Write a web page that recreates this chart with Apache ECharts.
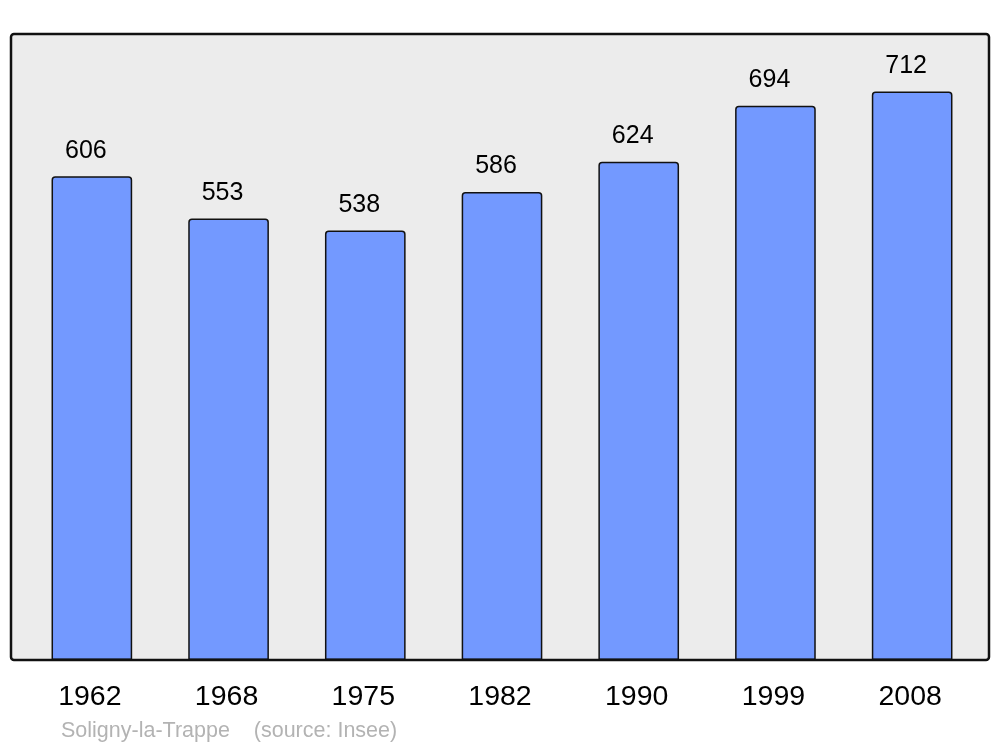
<!DOCTYPE html>
<html>
<head>
<meta charset="utf-8">
<script src="https://cdn.jsdelivr.net/npm/echarts@6/dist/echarts.min.js"></script>
<style>html,body{margin:0;padding:0;background:#fff;}#c{width:1000px;height:747px;}</style>
</head>
<body>
<div id="c"></div>
<script>
const years = ['1962','1968','1975','1982','1990','1999','2008'];
const population = [606, 553, 538, 586, 624, 694, 712];
const sourceText = 'Soligny-la-Trappe    (source: Insee)';

const chart = echarts.init(document.getElementById('c'), null, {renderer: 'canvas'});
chart.setOption({
  animation: false,
  backgroundColor: '#ffffff',
  grid: {left: 23.5, right: 19.5, top: 34, bottom: 87},
  xAxis: {
    type: 'category',
    data: years,
    axisLine: {show: false},
    axisTick: {show: false},
    axisLabel: {fontSize: 28.5, color: '#000', margin: 23, padding: [0, 4, 0, 0],
                fontFamily: 'Liberation Sans, Arial, sans-serif'}
  },
  yAxis: {type: 'value', min: 0, max: 784, show: false, splitLine: {show: false}},
  graphic: [
    {type: 'rect', z: -10, shape: {x: 11, y: 34, width: 978, height: 626, r: 3},
     style: {fill: '#ececec', stroke: 'none'}},
    {type: 'rect', z: 100, shape: {x: 11, y: 34, width: 978, height: 626, r: 3},
     style: {fill: 'none', stroke: '#111', lineWidth: 2.5}},
    {type: 'text', left: 61, top: 720,
     style: {text: sourceText, fill: '#b3b3b3', fontSize: 21.5, fontFamily: 'Liberation Sans, Arial, sans-serif'}}
  ],
  series: [{
    type: 'bar',
    data: population,
    barCategoryGap: '41%',
    itemStyle: {color: '#7399ff', borderColor: '#111', borderWidth: 1.5, borderRadius: [3,3,0,0]},
    label: {show: true, position: 'top', distance: 13, offset: [-6, 0], fontSize: 25, color: '#000',
            fontFamily: 'Liberation Sans, Arial, sans-serif'}
  }]
});
</script>
</body>
</html>
